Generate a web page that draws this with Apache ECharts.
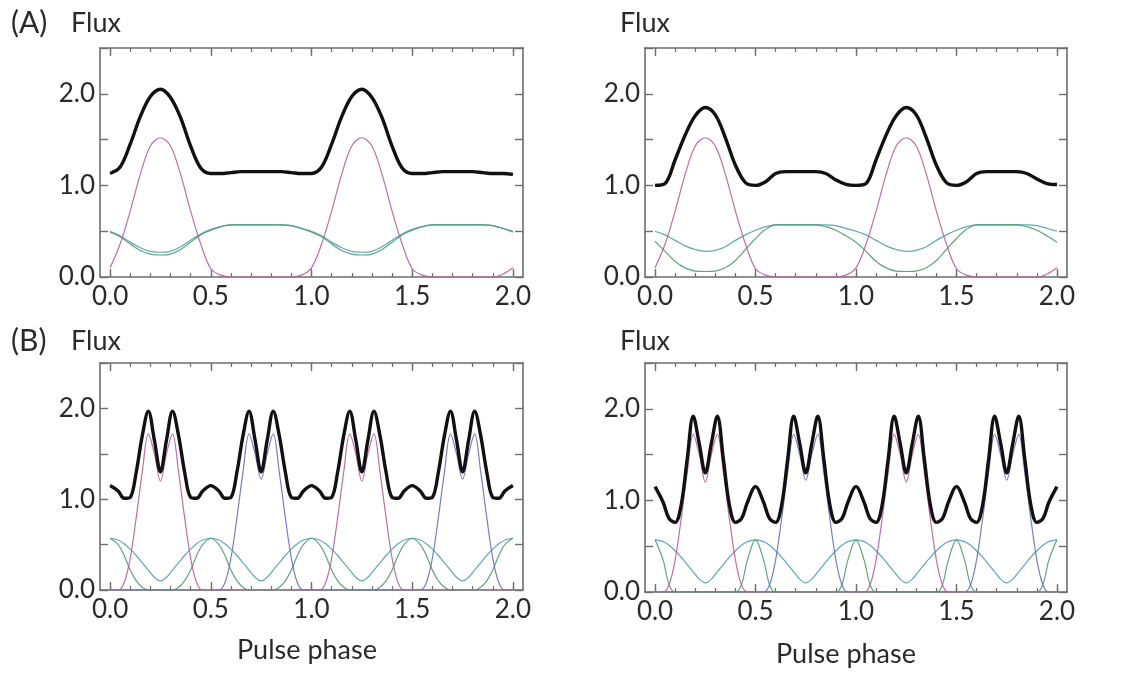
<!DOCTYPE html>
<html><head><meta charset="utf-8">
<script src="https://cdn.jsdelivr.net/npm/echarts@6/dist/echarts.min.js"></script>
<style>html,body{margin:0;padding:0;background:#fff}#c{width:1128px;height:673px}</style>
</head><body><div id="c"></div>
<script>
// ---------- DATA ----------
const phaseA = [0,0.05,0.1,0.15,0.2,0.25,0.3,0.35,0.4,0.45,0.5,0.55,0.6,0.65,0.7,0.75,0.8,0.85,0.9,0.95,
  1.0,1.05,1.1,1.15,1.2,1.25,1.3,1.35,1.4,1.45,1.5,1.55,1.6,1.65,1.7,1.75,1.8,1.85,1.9,1.95,2.0];

const aLeftTotal = [1.13,1.20,1.45,1.75,1.97,2.05,1.96,1.74,1.43,1.19,1.13,1.13,1.14,1.15,1.15,1.15,1.15,1.15,1.14,1.13,
  1.13,1.20,1.45,1.75,1.97,2.05,1.96,1.74,1.43,1.19,1.13,1.13,1.14,1.15,1.15,1.15,1.15,1.14,1.13,1.13,1.12];
const aLeftPulse = [0.10,0.36,0.72,1.12,1.43,1.52,1.43,1.12,0.72,0.36,0.09,0.02,0,0,0,0,0,0,0,0.02,
  0.10,0.36,0.72,1.12,1.43,1.52,1.43,1.12,0.72,0.36,0.09,0.02,0,0,0,0,0,0,0,0.03,0.10];
const aLeftBlue = [0.50,0.45,0.38,0.32,0.28,0.27,0.28,0.33,0.40,0.47,0.52,0.55,0.57,0.57,0.57,0.57,0.57,0.57,0.56,0.53,
  0.50,0.45,0.38,0.32,0.28,0.27,0.28,0.33,0.40,0.47,0.52,0.55,0.57,0.57,0.57,0.57,0.57,0.57,0.56,0.53,0.50];
const aLeftGreen = [0.49,0.44,0.36,0.29,0.25,0.24,0.25,0.30,0.38,0.46,0.51,0.55,0.57,0.57,0.57,0.57,0.57,0.57,0.56,0.53,
  0.49,0.44,0.36,0.29,0.25,0.24,0.25,0.30,0.38,0.46,0.51,0.55,0.57,0.57,0.57,0.57,0.57,0.57,0.56,0.53,0.49];

const aRightTotal = [1.00,1.02,1.28,1.55,1.76,1.85,1.77,1.52,1.22,1.03,1.00,1.04,1.13,1.15,1.15,1.15,1.15,1.13,1.06,1.01,
  1.00,1.02,1.28,1.55,1.76,1.85,1.77,1.52,1.22,1.03,1.00,1.04,1.13,1.15,1.15,1.15,1.15,1.13,1.07,1.02,1.01];
const aRightPulse = [0.10,0.36,0.72,1.12,1.43,1.52,1.43,1.12,0.72,0.36,0.09,0.02,0,0,0,0,0,0,0,0.02,
  0.10,0.36,0.72,1.12,1.43,1.52,1.43,1.12,0.72,0.36,0.09,0.02,0,0,0,0,0,0,0,0.03,0.10];
const aRightBlue = [0.50,0.46,0.40,0.34,0.30,0.28,0.29,0.33,0.40,0.46,0.51,0.55,0.57,0.57,0.57,0.57,0.57,0.57,0.56,0.53,
  0.50,0.46,0.40,0.34,0.30,0.28,0.29,0.33,0.40,0.46,0.51,0.55,0.57,0.57,0.57,0.57,0.57,0.57,0.56,0.53,0.50];
const aRightGreen = [0.39,0.28,0.17,0.10,0.065,0.06,0.065,0.10,0.18,0.30,0.42,0.52,0.57,0.57,0.57,0.57,0.57,0.55,0.51,0.45,
  0.38,0.28,0.17,0.10,0.065,0.06,0.065,0.10,0.18,0.30,0.42,0.52,0.57,0.57,0.57,0.57,0.57,0.55,0.51,0.45,0.38];

const phaseB = [0,0.04,0.07,0.10,0.13,0.16,0.19,0.22,0.25,0.28,0.31,0.34,0.37,0.40,0.43,0.46,
  0.50,0.54,0.57,0.60,0.63,0.66,0.69,0.72,0.75,0.78,0.81,0.84,0.87,0.90,0.93,0.96,
  1.00,1.04,1.07,1.10,1.13,1.16,1.19,1.22,1.25,1.28,1.31,1.34,1.37,1.40,1.43,1.46,
  1.50,1.54,1.57,1.60,1.63,1.66,1.69,1.72,1.75,1.78,1.81,1.84,1.87,1.90,1.93,1.96,2.00];

const bLeftTotal = [1.15,1.09,1.01,1.02,1.30,1.70,1.97,1.65,1.30,1.65,1.97,1.70,1.30,1.02,1.01,1.09,
  1.15,1.09,1.01,1.02,1.30,1.70,1.97,1.65,1.30,1.65,1.97,1.70,1.30,1.02,1.01,1.09,
  1.15,1.09,1.01,1.02,1.30,1.70,1.97,1.65,1.30,1.65,1.97,1.70,1.30,1.02,1.01,1.09,
  1.15,1.09,1.01,1.02,1.30,1.70,1.97,1.65,1.30,1.65,1.97,1.70,1.30,1.02,1.01,1.09,1.15];
const bLeftPulse1 = [0,0,0.08,0.35,0.80,1.30,1.72,1.50,1.20,1.50,1.72,1.30,0.80,0.35,0.08,0,
  0,0,0,0,0,0,0,0,0,0,0,0,0,0,0,0,
  0,0,0.08,0.35,0.80,1.30,1.72,1.50,1.20,1.50,1.72,1.30,0.80,0.35,0.08,0,
  0,0,0,0,0,0,0,0,0,0,0,0,0,0,0,0,0];
const bLeftPulse2 = [0,0,0,0,0,0,0,0,0,0,0,0,0,0,0,0,
  0,0,0.08,0.35,0.80,1.30,1.72,1.50,1.22,1.50,1.72,1.30,0.80,0.35,0.08,0,
  0,0,0,0,0,0,0,0,0,0,0,0,0,0,0,0,
  0,0,0.08,0.35,0.80,1.30,1.72,1.50,1.22,1.50,1.72,1.30,0.80,0.35,0.08,0,0];
const bLeftTeal = [0.57,0.55,0.51,0.45,0.38,0.30,0.22,0.14,0.10,0.14,0.22,0.30,0.38,0.45,0.51,0.55,
  0.57,0.55,0.51,0.45,0.38,0.30,0.22,0.14,0.10,0.14,0.22,0.30,0.38,0.45,0.51,0.55,
  0.57,0.55,0.51,0.45,0.38,0.30,0.22,0.14,0.10,0.14,0.22,0.30,0.38,0.45,0.51,0.55,
  0.57,0.55,0.51,0.45,0.38,0.30,0.22,0.14,0.10,0.14,0.22,0.30,0.38,0.45,0.51,0.55,0.57];
const bLeftGreen = [0.57,0.50,0.38,0.22,0.10,0.03,0,0,0,0,0,0.03,0.10,0.22,0.38,0.50,
  0.57,0.50,0.38,0.22,0.10,0.03,0,0,0,0,0,0.03,0.10,0.22,0.38,0.50,
  0.57,0.50,0.38,0.22,0.10,0.03,0,0,0,0,0,0.03,0.10,0.22,0.38,0.50,
  0.57,0.50,0.38,0.22,0.10,0.03,0,0,0,0,0,0.03,0.10,0.22,0.38,0.50,0.57];

const bRightTotal = [1.15,0.98,0.80,0.76,0.95,1.45,1.92,1.62,1.30,1.62,1.92,1.45,0.95,0.76,0.80,0.98,
  1.15,0.98,0.80,0.76,0.95,1.45,1.92,1.62,1.30,1.62,1.92,1.45,0.95,0.76,0.80,0.98,
  1.15,0.98,0.80,0.76,0.95,1.45,1.92,1.62,1.30,1.62,1.92,1.45,0.95,0.76,0.80,0.98,
  1.15,0.98,0.80,0.76,0.95,1.45,1.92,1.62,1.30,1.62,1.92,1.45,0.95,0.76,0.80,0.98,1.15];
const bRightPulse1 = [0,0,0.08,0.35,0.80,1.30,1.72,1.50,1.20,1.50,1.72,1.30,0.80,0.35,0.08,0,
  0,0,0,0,0,0,0,0,0,0,0,0,0,0,0,0,
  0,0,0.08,0.35,0.80,1.30,1.72,1.50,1.20,1.50,1.72,1.30,0.80,0.35,0.08,0,
  0,0,0,0,0,0,0,0,0,0,0,0,0,0,0,0,0];
const bRightPulse2 = [0,0,0,0,0,0,0,0,0,0,0,0,0,0,0,0,
  0,0,0.08,0.35,0.80,1.30,1.72,1.50,1.22,1.50,1.72,1.30,0.80,0.35,0.08,0,
  0,0,0,0,0,0,0,0,0,0,0,0,0,0,0,0,
  0,0,0.08,0.35,0.80,1.30,1.72,1.50,1.22,1.50,1.72,1.30,0.80,0.35,0.08,0,0];
const bRightTeal = [0.57,0.55,0.51,0.45,0.38,0.30,0.22,0.14,0.10,0.14,0.22,0.30,0.38,0.45,0.51,0.55,
  0.57,0.55,0.51,0.45,0.38,0.30,0.22,0.14,0.10,0.14,0.22,0.30,0.38,0.45,0.51,0.55,
  0.57,0.55,0.51,0.45,0.38,0.30,0.22,0.14,0.10,0.14,0.22,0.30,0.38,0.45,0.51,0.55,
  0.57,0.55,0.51,0.45,0.38,0.30,0.22,0.14,0.10,0.14,0.22,0.30,0.38,0.45,0.51,0.55,0.57];
const bRightGreen = [0.57,0.35,0.08,0,0,0,0,0,0,0,0,0,0,0,0.08,0.35,
  0.57,0.35,0.08,0,0,0,0,0,0,0,0,0,0,0,0.08,0.35,
  0.57,0.35,0.08,0,0,0,0,0,0,0,0,0,0,0,0.08,0.35,
  0.57,0.35,0.08,0,0,0,0,0,0,0,0,0,0,0,0.08,0.35,0.57];

const xLabelValues = [0, 0.5, 1.0, 1.5, 2.0];
const xMinorValues = [0,0.1,0.2,0.3,0.4,0.5,0.6,0.7,0.8,0.9,1.0,1.1,1.2,1.3,1.4,1.5,1.6,1.7,1.8,1.9,2.0];
const yLabelValues = [0, 1, 2];

const panelTags = ['(A)', '(B)'];
const yTitle = 'Flux';
const xTitle = 'Pulse phase';

// ---------- STYLE / LAYOUT ----------
const FONT = "Lato, 'Open Sans', sans-serif";
const FS = 26;
const FS_TITLE = 27;
const FS_TAG = 30;
const AXIS_COLOR = '#6e6e6e';
const TEXT_COLOR = '#2a2a2a';
const C_TOTAL = '#111111', C_PULSE = '#b3609c', C_BLUE = '#6870b8', C_TEAL = '#4f9cb0', C_GREEN = '#4f9a6e';

const panels = [
  {grid: {left: 100, top: 48, width: 423, height: 229}, phase: phaseA,
   lines: [[aLeftBlue, C_TEAL], [aLeftGreen, C_GREEN], [aLeftPulse, C_PULSE], [aLeftTotal, C_TOTAL]]},
  {grid: {left: 645, top: 48, width: 422, height: 229}, phase: phaseA,
   lines: [[aRightBlue, C_TEAL], [aRightGreen, C_GREEN], [aRightPulse, C_PULSE], [aRightTotal, C_TOTAL]]},
  {grid: {left: 100, top: 363, width: 423, height: 227}, phase: phaseB,
   lines: [[bLeftTeal, C_TEAL], [bLeftGreen, C_GREEN], [bLeftPulse2, C_BLUE], [bLeftPulse1, C_PULSE], [bLeftTotal, C_TOTAL]]},
  {grid: {left: 645, top: 363, width: 422, height: 229}, phase: phaseB,
   lines: [[bRightTeal, C_TEAL], [bRightGreen, C_GREEN], [bRightPulse2, C_BLUE], [bRightPulse1, C_PULSE], [bRightTotal, C_TOTAL]]}
];

const grids = [], xAxes = [], yAxes = [], series = [];
const fmt = v => Number(v).toFixed(1);
panels.forEach((p, i) => {
  grids.push(Object.assign({containLabel: false, outerBoundsMode: 'none'}, p.grid));
  const base = {gridIndex: i, type: 'value', min: -0.05, max: 2.05, splitLine: {show: false}};
  ['bottom', 'top'].forEach(pos => {
    xAxes.push(Object.assign({}, base, {
      position: pos,
      axisLine: {show: true, onZero: false, lineStyle: {color: AXIS_COLOR, width: 1.6}},
      axisTick: {show: true, inside: true, length: 8, customValues: xLabelValues, lineStyle: {color: AXIS_COLOR, width: 1.4}},
      axisLabel: {show: pos === 'bottom', customValues: xLabelValues, formatter: fmt, fontSize: FS,
        fontFamily: FONT, color: TEXT_COLOR, margin: 7}
    }));
    xAxes.push(Object.assign({}, base, {
      position: pos,
      axisLine: {show: false, onZero: false},
      axisTick: {show: true, inside: true, length: 4, customValues: xMinorValues, lineStyle: {color: AXIS_COLOR, width: 1.2}},
      axisLabel: {show: false}
    }));
  });
  ['left', 'right'].forEach(pos => {
    yAxes.push({
      gridIndex: i, type: 'value', position: pos, min: 0, max: 2.5, interval: 0.5,
      splitLine: {show: false},
      axisLine: {show: true, onZero: false, lineStyle: {color: AXIS_COLOR, width: 1.6}},
      axisTick: {show: true, inside: true, length: 8, lineStyle: {color: AXIS_COLOR, width: 1.4}},
      axisLabel: {show: pos === 'left', customValues: yLabelValues, formatter: fmt, fontSize: FS,
        fontFamily: FONT, color: TEXT_COLOR, margin: 5}
    });
  });
  p.lines.forEach(([vals, color], k) => {
    const isTotal = color === C_TOTAL;
    series.push({
      type: 'line', xAxisIndex: i * 4, yAxisIndex: i * 2,
      data: p.phase.map((x, j) => [x, vals[j]]),
      showSymbol: false, smooth: 0.35, silent: true,
      z: isTotal ? 5 : 2 + k * 0.1,
      lineStyle: {color: color, width: isTotal ? 3.4 : 1.2, opacity: isTotal ? 1 : 0.9},
      animation: false
    });
  });
});

const textEl = (txt, x, y, size, align) => ({
  type: 'text', x: x, y: y, silent: true,
  style: {text: txt, x: 0, y: 0, fill: TEXT_COLOR, font: size + 'px ' + FONT, textAlign: align || 'left', textVerticalAlign: 'middle'}
});

const graphics = [
  textEl(panelTags[0], 11, 23, FS_TAG),
  textEl(yTitle, 71, 23, FS_TITLE),
  textEl(yTitle, 620, 23, FS_TITLE),
  textEl(panelTags[1], 11, 341, FS_TAG),
  textEl(yTitle, 71, 341, FS_TITLE),
  textEl(yTitle, 620, 341, FS_TITLE),
  textEl(xTitle, 307, 650, FS_TITLE, 'center'),
  textEl(xTitle, 846, 654, FS_TITLE, 'center')
];

const chart = echarts.init(document.getElementById('c'), null, {renderer: 'canvas'});
chart.setOption({
  backgroundColor: '#ffffff',
  animation: false,
  grid: grids,
  xAxis: xAxes,
  yAxis: yAxes,
  series: series,
  graphic: graphics
});
</script>
</body></html>
